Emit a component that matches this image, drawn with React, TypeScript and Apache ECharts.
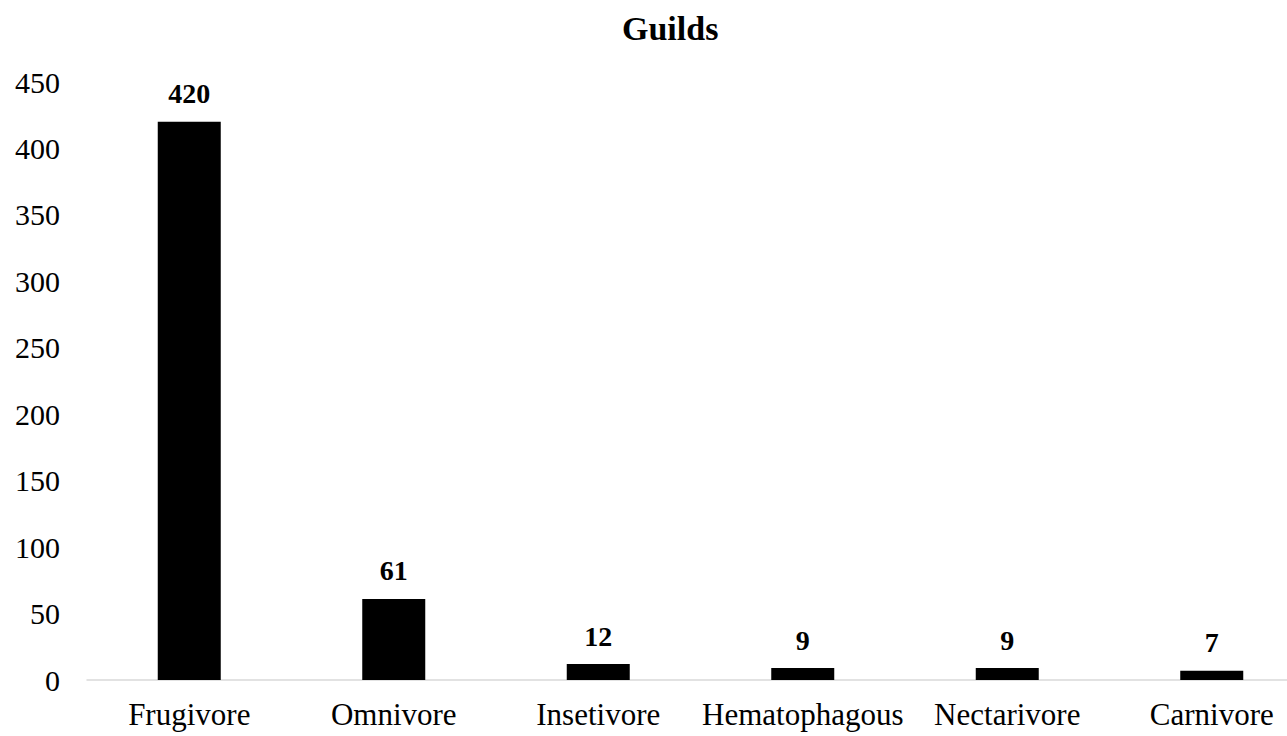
import React, { useEffect, useRef } from "react";
import * as echarts from "echarts";

const categories = ["Frugivore", "Omnivore", "Insetivore", "Hematophagous", "Nectarivore", "Carnivore"];
const values = [420, 61, 12, 9, 9, 7];
const titleText = "Guilds";

const FONT = '"Liberation Serif", "Times New Roman", serif';

export default function App() {
  const ref = useRef<HTMLDivElement>(null);
  useEffect(() => {
    document.body.style.margin = "0";
    const chart = echarts.init(ref.current!, null, { renderer: "svg" });
    chart.setOption({
      animation: false,
      backgroundColor: "#ffffff",
      title: {
        text: titleText,
        left: 617,
        top: 6,
        textStyle: { fontFamily: FONT, fontWeight: "bold", fontSize: 34, color: "#000" },
      },
      grid: { left: 87, width: 1227, top: 82, bottom: 56, containLabel: false, outerBoundsMode: "none" },
      xAxis: {
        type: "category",
        data: categories,
        axisLine: { show: true, lineStyle: { color: "#d9d9d9", width: 1.5 } },
        axisTick: { show: false },
        axisLabel: { fontFamily: FONT, fontSize: 31, color: "#000", margin: 19, interval: 0 },
      },
      yAxis: {
        type: "value",
        min: 0,
        max: 450,
        interval: 50,
        axisLine: { show: false },
        axisTick: { show: false },
        splitLine: { show: false },
        axisLabel: { fontFamily: FONT, fontSize: 30, color: "#000", margin: 27 },
      },
      series: [
        {
          type: "bar",
          data: values,
          barWidth: 63,
          itemStyle: { color: "#000" },
          label: {
            show: true,
            position: "top",
            distance: 14,
            fontFamily: FONT,
            fontWeight: "bold",
            fontSize: 28,
            color: "#000",
          },
        },
      ],
    });
    return () => chart.dispose();
  }, []);
  return (
    <div style={{ width: 1287, height: 736, overflow: "hidden", position: "relative" }}>
      <div ref={ref} style={{ width: 1340, height: 736 }} />
    </div>
  );
}
